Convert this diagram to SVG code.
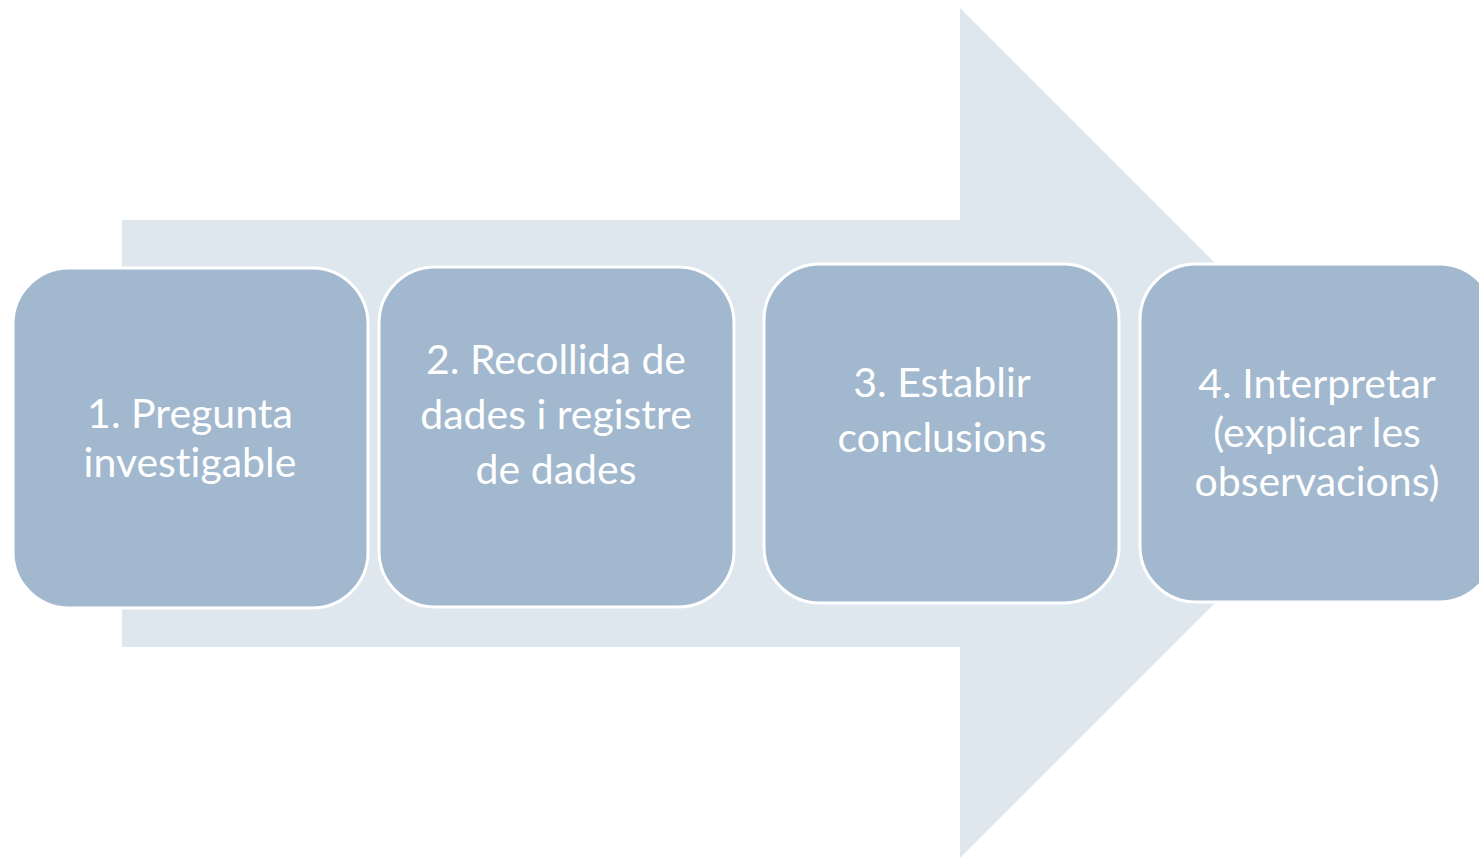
<svg xmlns="http://www.w3.org/2000/svg" width="1479" height="859" viewBox="0 0 1479 859">
<style>
.box{fill:#A2B8CE;stroke:#FFFFFF;stroke-width:3}
.lbl{font-family:Lato,"Open Sans","Liberation Sans",sans-serif;font-size:41px;fill:#FFFFFF;text-anchor:middle;font-variant-ligatures:none;font-feature-settings:"liga" 0}
</style>
<rect width="1479" height="859" fill="#FFFFFF"/>
<g id="connectors">
<polygon id="arrow" points="122,220 960,220 960,8 1385,433 960,858 960,647 122,647" fill="#DEE6EE"/>
</g>
<g id="node1">
<rect class="box" x="13" y="268" width="355" height="340" rx="56" ry="56"/>
<text class="lbl" x="190" y="428">1. Pregunta</text>
<text class="lbl" x="190" y="477">investigable</text>
</g>
<g id="node2">
<rect class="box" x="379" y="267" width="355" height="340" rx="56" ry="56"/>
<text class="lbl" x="556" y="374">2. Recollida de</text>
<text class="lbl" x="556" y="429">dades i registre</text>
<text class="lbl" x="556" y="484">de dades</text>
</g>
<g id="node3">
<rect class="box" x="764" y="264" width="355" height="339" rx="56" ry="56"/>
<text class="lbl" x="942" y="397">3. Establir</text>
<text class="lbl" x="942" y="452">conclusions</text>
</g>
<g id="node4">
<rect class="box" x="1140" y="264" width="355" height="338" rx="56" ry="56"/>
<text class="lbl" x="1317" y="398">4. Interpretar</text>
<text class="lbl" x="1317" y="447">(explicar les</text>
<text class="lbl" x="1317" y="496">observacions)</text>
</g>
</svg>
